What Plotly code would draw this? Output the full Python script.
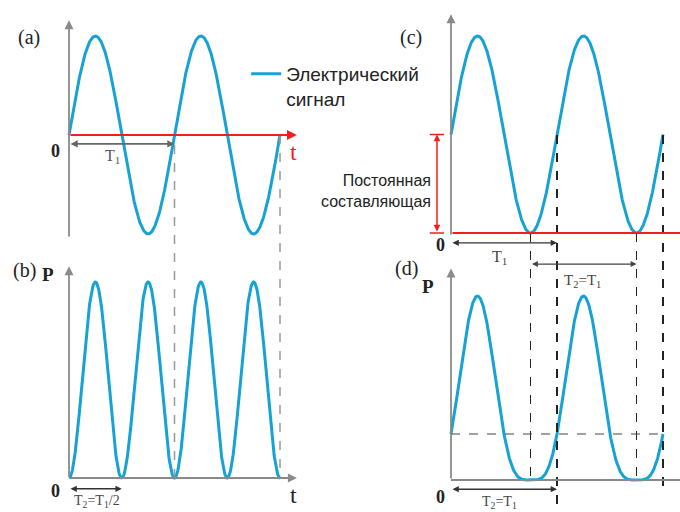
import numpy as np
import plotly.graph_objects as go

# ---------------- data (time in units of T1) ----------------
n_periods = 2
t = np.linspace(0, n_periods, 600)
amplitude = 1.0
dc_offset = 1.0
signal_a = amplitude * np.sin(2 * np.pi * t)                 # (a) electrical signal
power_b = np.sin(2 * np.pi * t) ** 2                          # (b) P ~ signal^2, period T1/2
signal_c = dc_offset + amplitude * np.sin(2 * np.pi * t)     # (c) signal with DC component
power_d = (dc_offset + amplitude * np.sin(2 * np.pi * t)) ** 2 / 4  # (d) P, period T1
power_d_start = power_d[0]

legend_name = "Электрический<br>сигнал"
dc_label = "Постоянная<br>составляющая"
panel_labels = ["(a)", "(b)", "(c)", "(d)"]

BLUE = "#17a2d6"
RED = "#f01e1e"
GRAY = "#8a8a8a"
DARK = "#333333"
SERIF = "Liberation Serif, Times New Roman, serif"
SANS = "Liberation Sans, Arial, sans-serif"

W, H = 680, 512

fig = go.Figure()
line = dict(color=BLUE, width=3)
fig.add_trace(go.Scatter(x=t, y=signal_a, xaxis="x", yaxis="y", mode="lines",
                         line=line, name=legend_name, showlegend=True, hoverinfo="skip"))
fig.add_trace(go.Scatter(x=t, y=power_b, xaxis="x", yaxis="y2", mode="lines",
                         line=line, showlegend=False, hoverinfo="skip"))
fig.add_trace(go.Scatter(x=t, y=signal_c, xaxis="x2", yaxis="y3", mode="lines",
                         line=line, showlegend=False, hoverinfo="skip"))
fig.add_trace(go.Scatter(x=t, y=power_d, xaxis="x2", yaxis="y4", mode="lines",
                         line=line, showlegend=False, hoverinfo="skip"))

ax_common = dict(visible=False, fixedrange=True, domain=[0, 1])
layout = dict(
    width=W, height=H, margin=dict(l=0, r=0, t=0, b=0),
    paper_bgcolor="white", plot_bgcolor="white",
    xaxis=dict(range=[-69 / 105.5, (W - 69) / 105.5], **ax_common),
    xaxis2=dict(range=[-451 / 106, (W - 451) / 106], overlaying="x", **ax_common),
    yaxis=dict(range=[(135 - H) / 99, 135 / 99], **ax_common),
    yaxis2=dict(range=[(478 - H) / 196, 478 / 196], overlaying="y", **ax_common),
    yaxis3=dict(range=[(233 - H) / 98.5, 233 / 98.5], overlaying="y", **ax_common),
    yaxis4=dict(range=[(480 - H) / 184, 480 / 184], overlaying="y", **ax_common),
    showlegend=True,
    legend=dict(x=0.362, y=0.893, xanchor="left", yanchor="top", valign="top",
                bgcolor="rgba(0,0,0,0)", itemwidth=30, tracegroupgap=0,
                font=dict(family=SANS, size=19, color="#222")),
)
fig.update_layout(**layout)

anns = []
shapes = []


def arrow(x0, y0, x1, y1, xr, yr, color, width=1.5, both=False, size=1.0, head=2):
    anns.append(dict(x=x1, y=y1, ax=x0, ay=y0, xref=xr, yref=yr, axref=xr, ayref=yr,
                     text="", showarrow=True, arrowhead=head, arrowsize=size,
                     arrowwidth=width, arrowcolor=color,
                     arrowside="end+start" if both else "end",
                     startarrowhead=head, startarrowsize=size))


def text(x, y, s, xr, yr, size=16, color=DARK, family=SERIF, xanchor="center",
         yanchor="middle", align="center", bold=False):
    anns.append(dict(x=x, y=y, xref=xr, yref=yr, text=(f"<b>{s}</b>" if bold else s),
                     showarrow=False,
                     font=dict(family=family, size=size, color=color),
                     xanchor=xanchor, yanchor=yanchor, align=align))


def px(xp, yp):
    return xp / W, 1 - yp / H


# ---------- (a) ----------
arrow(0, -1.04, 0, 1.16, "x", "y", GRAY, width=1.8)
arrow(0, 0, 2.16, 0, "x", "y", RED, width=2.2, size=0.9)
text(2.13, -0.17, "t", "x", "y", size=24, color=RED)
text(-0.13, -0.16, "0", "x", "y", size=18, color="#222", bold=True)
arrow(0, -0.09, 1, -0.09, "x", "y", "#666", width=1.6, both=True, size=0.9)
text(0.41, -0.22, "T<sub>1</sub>", "x", "y", size=16, color="#555")
x_, y_ = px(29, 37)
text(x_, y_, panel_labels[0], "paper", "paper", size=20, color="#222")
for tt, ytop in [(1, 145), (2, 135)]:
    shapes.append(dict(type="line", xref="x", yref="paper", x0=tt, x1=tt,
                       y0=1 - ytop / H, y1=1 - 478 / H,
                       line=dict(color="#999", width=1.5, dash="dash")))

# ---------- (b) ----------
arrow(0, 0, 0, 1.08, "x", "y2", GRAY, width=1.8)
arrow(0, 0, 2.16, 0, "x", "y2", GRAY, width=1.8)
text(-0.2, 1.04, "P", "x", "y2", size=19, color="#222", bold=True)
text(-0.13, -0.065, "0", "x", "y2", size=18, color="#222", bold=True)
text(2.13, -0.085, "t", "x", "y2", size=24, color="#222")
arrow(0, -0.055, 0.5, -0.055, "x", "y2", "#333", width=1.4, both=True, size=0.9)
text(0.27, -0.122, "T<sub>2</sub>=T<sub>1</sub>/2", "x", "y2", size=14, color="#444")
x_, y_ = px(24, 270)
text(x_, y_, panel_labels[1], "paper", "paper", size=20, color="#222")

# ---------- (c) ----------
arrow(0, -0.03, 0, 2.22, "x2", "y3", GRAY, width=1.8)
arrow(0, 0, 2.3, 0, "x2", "y3", RED, width=2.0, size=0.9)
arrow(-0.132, 0.0, -0.132, dc_offset, "x2", "y3", RED, width=1.5, both=True, size=0.9)
for vv in [0, dc_offset]:
    shapes.append(dict(type="line", xref="x2", yref="y3", x0=-0.2, x1=-0.066, y0=vv, y1=vv,
                       line=dict(color=RED, width=1.5)))
x_, y_ = px(433, 191)
text(x_, y_, dc_label, "paper", "paper", size=16, color="#222", family=SANS,
     xanchor="right", align="right")
text(-0.1, -0.12, "0", "x2", "y3", size=18, color="#222", bold=True)
x_, y_ = px(411, 37)
text(x_, y_, panel_labels[2], "paper", "paper", size=20, color="#222")
arrow(0, -0.1, 1, -0.1, "x2", "y3", "#333", width=1.4, both=True, size=0.9)
text(0.46, -0.245, "T<sub>1</sub>", "x2", "y3", size=16, color="#444")
arrow(0.75, -0.315, 1.75, -0.315, "x2", "y3", "#444", width=1.3, both=True, size=0.9)
text(1.245, -0.49, "T<sub>2</sub>=T<sub>1</sub>", "x2", "y3", size=15, color="#444")
for tt, ytop, ybot, wdt in [(0.75, 233, 482, 1.0), (1.0, 135, 512, 2.0),
                            (1.75, 233, 482, 1.0), (2.0, 135, 490, 2.0)]:
    shapes.append(dict(type="line", xref="x2", yref="paper", x0=tt, x1=tt,
                       y0=1 - ytop / H, y1=1 - ybot / H,
                       line=dict(color="#222", width=wdt, dash="dash")))

# ---------- (d) ----------
arrow(0, 0, 0, 1.15, "x2", "y4", GRAY, width=1.8)
shapes.append(dict(type="line", xref="x2", yref="y4", x0=0, x1=2.3, y0=0, y1=0,
                   line=dict(color=GRAY, width=2)))
shapes.append(dict(type="line", xref="x2", yref="y4", x0=0, x1=n_periods,
                   y0=power_d_start, y1=power_d_start,
                   line=dict(color="#444", width=1.2, dash="dash")))
text(-0.22, 1.05, "P", "x2", "y4", size=19, color="#222", bold=True)
text(-0.1, -0.09, "0", "x2", "y4", size=18, color="#222", bold=True)
x_, y_ = px(406, 268)
text(x_, y_, panel_labels[3], "paper", "paper", size=20, color="#222")
arrow(0, -0.05, 1, -0.05, "x2", "y4", "#333", width=1.4, both=True, size=0.9)
text(0.46, -0.12, "T<sub>2</sub>=T<sub>1</sub>", "x2", "y4", size=14, color="#444")

fig.update_layout(annotations=anns, shapes=shapes)
fig.write_html("out.html")
